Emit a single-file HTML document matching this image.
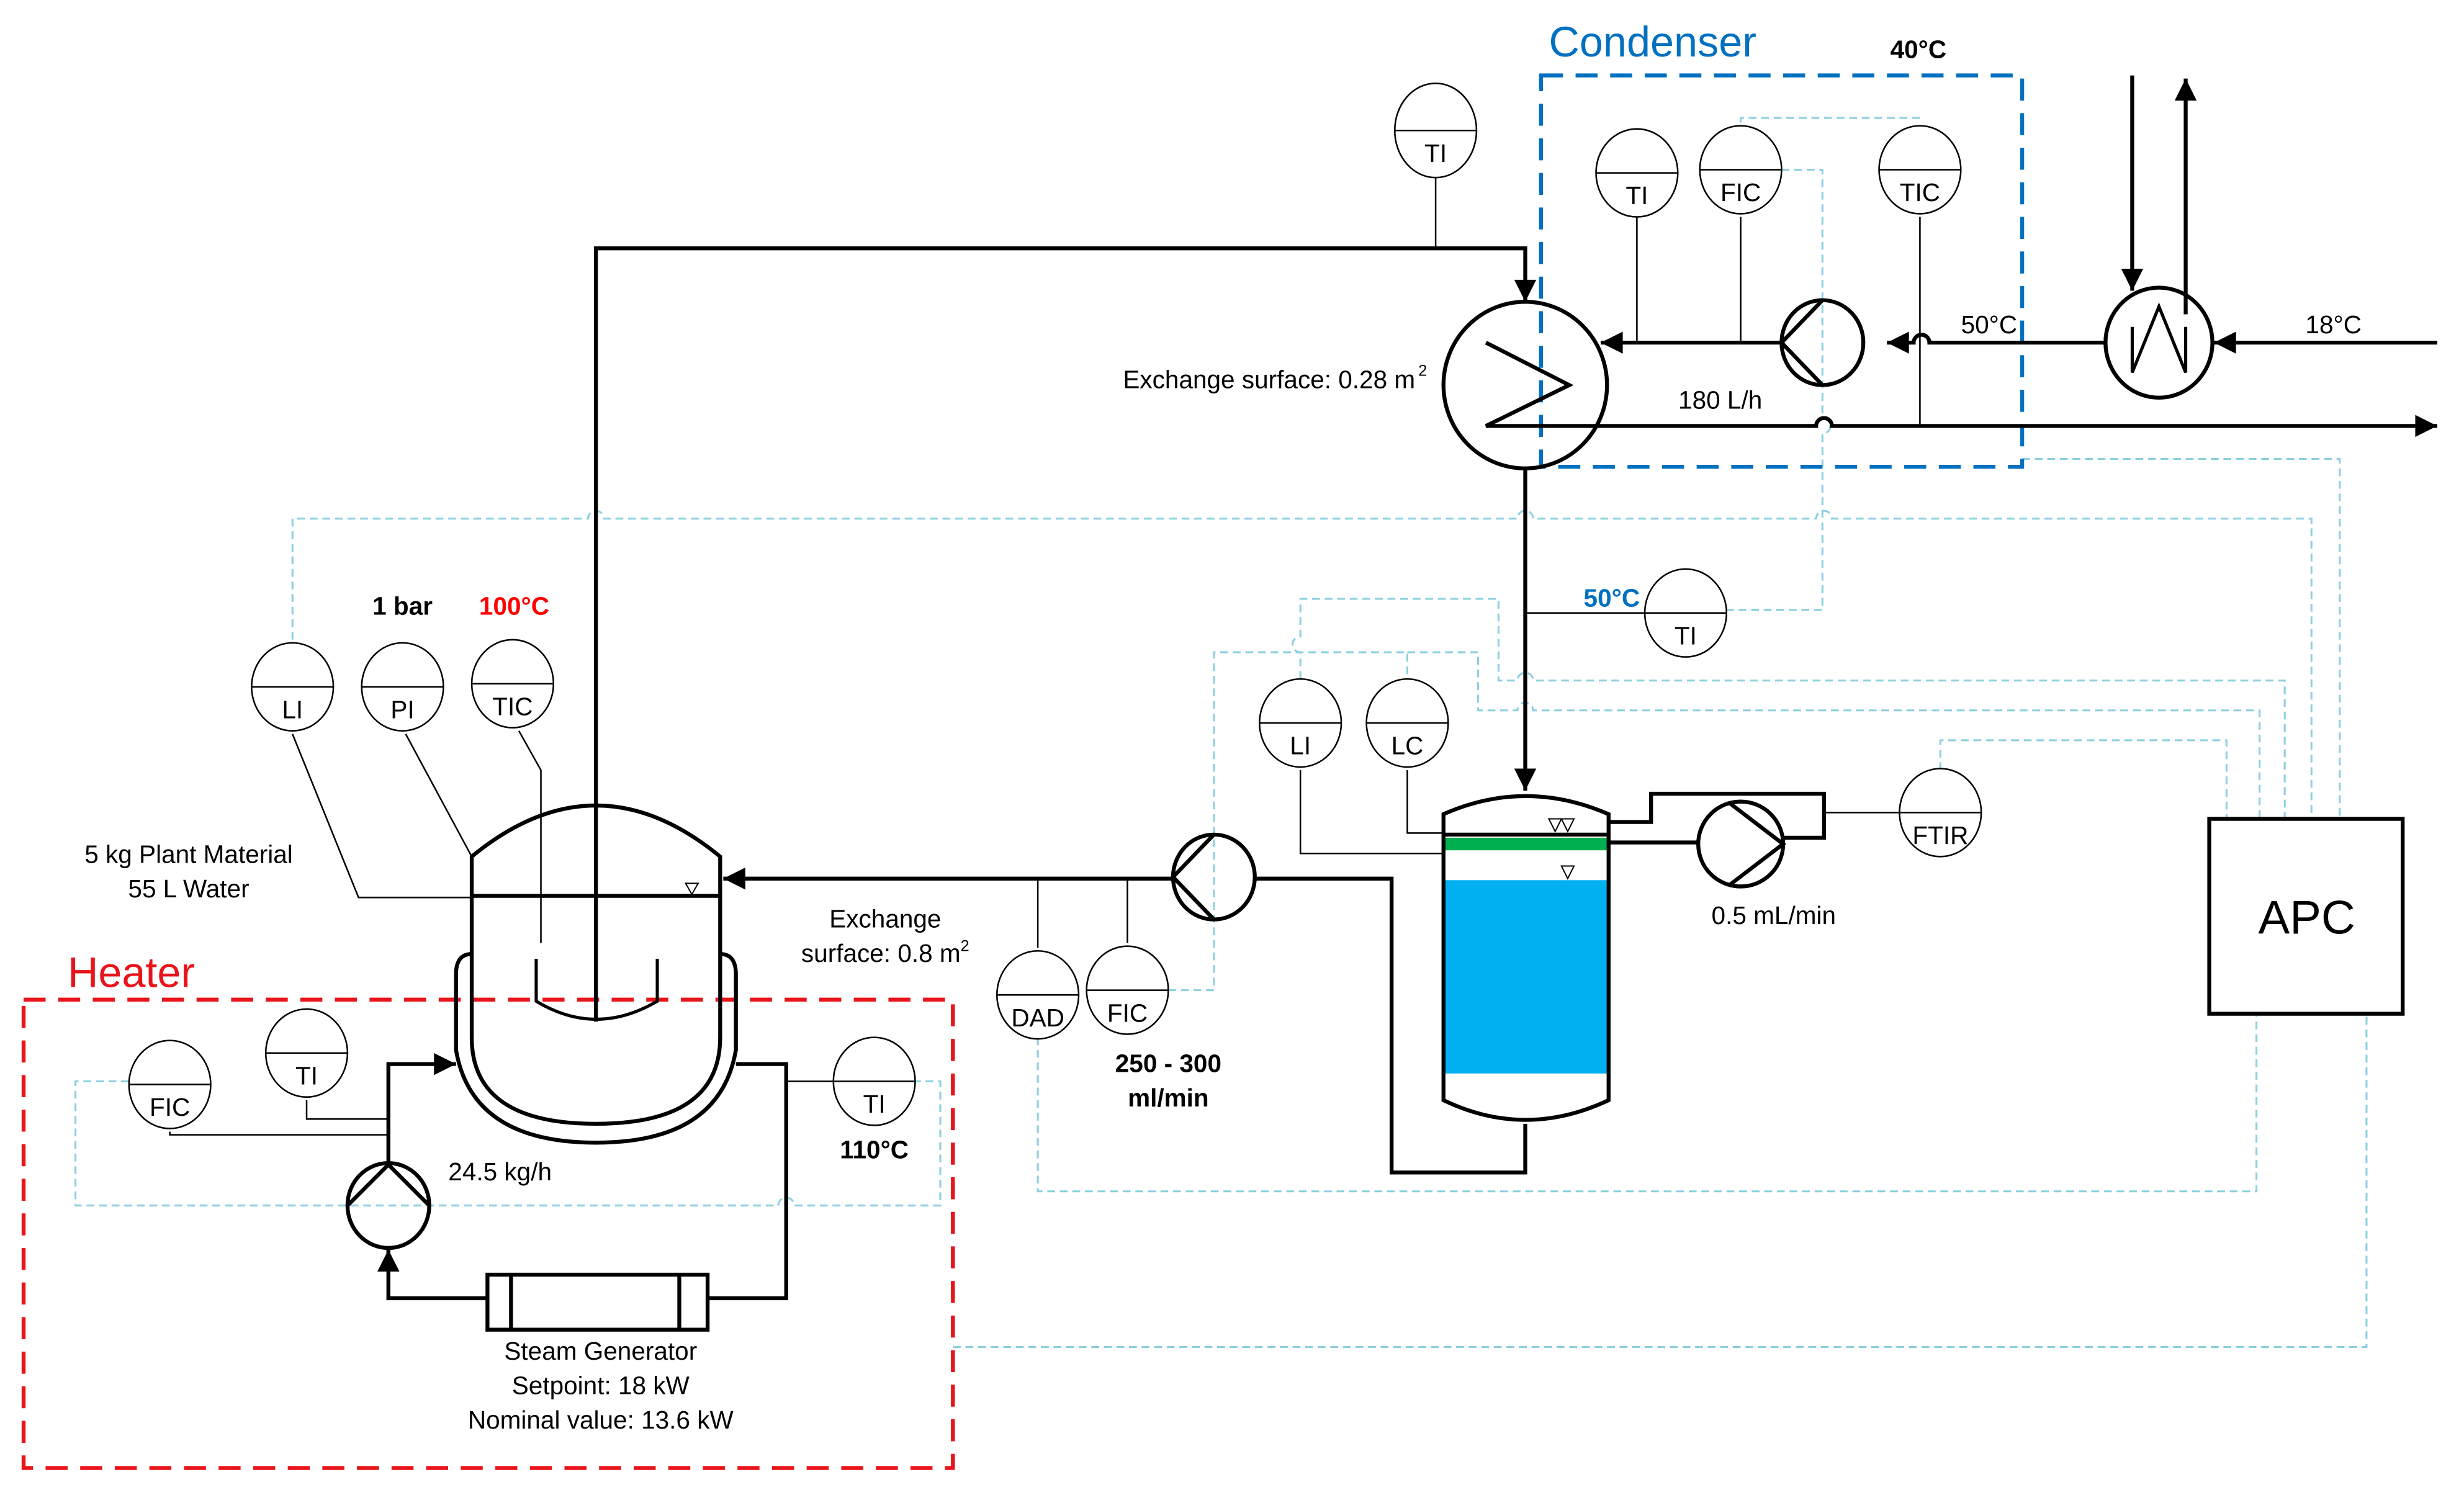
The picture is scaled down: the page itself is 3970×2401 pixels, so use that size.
<!DOCTYPE html>
<html><head><meta charset="utf-8"><style>
html,body{margin:0;padding:0;background:#fff;}
svg{display:block;}
text{font-family:"Liberation Sans",sans-serif;}
</style></head><body>
<svg width="3970" height="2401" viewBox="0 0 1567 948" preserveAspectRatio="none" xmlns="http://www.w3.org/2000/svg">
<defs>
<marker id="ah" viewBox="0 0 10 10" refX="10" refY="5" markerWidth="16" markerHeight="14" markerUnits="userSpaceOnUse" orient="auto"><path d="M0,0 L10,5 L0,10 Z" fill="#000"/></marker>
</defs>
<g fill="none" stroke="#8ccfe0" stroke-width="1.2" stroke-dasharray="5,3">
<path d="M186,407 V330 H374 a5,5 0 0 1 10,0 H965 a5,5 0 0 1 10,0 H1155 a5,5 0 0 1 10,0 H1470 V521"/>
<path d="M1286,292 H1488 V521"/>
<path d="M1107,78 V75 H1221 V78"/>
<path d="M1133,108 H1159 V266 a5,5 0 0 1 0,10 V388 H1098"/>
<path d="M827,432 V415 a5,5 0 0 1 0,-10 V381 H953 V433 H965 a5,5 0 0 1 10,0 H1453 V521"/>
<path d="M743,630 H772 V415 H895 V432"/>
<path d="M895,415 H940 V452 H965 a5,5 0 0 1 10,0 H1437 V521"/>
<path d="M1234,490 V471 H1416 V521"/>
<path d="M660,660 V758 H1435 V645"/>
<path d="M606,857 H1505 V645"/>
<path d="M82,688 H48 V767 H495 a5,5 0 0 1 10,0 H598 V688 H582"/>
</g>
<rect x="980" y="48" width="306" height="249" fill="none" stroke="#0070c0" stroke-width="2.5" stroke-dasharray="14,8"/>
<rect x="15" y="636" width="591" height="298" fill="none" stroke="#e8141a" stroke-width="2.5" stroke-dasharray="14,8"/>
<text x="985" y="36" font-size="27" fill="#0070c0">Condenser</text>
<text x="43" y="628" font-size="27" fill="#e8141a">Heater</text>
<g stroke="#000" stroke-width="1" fill="none">
<path d="M913,113 V158"/>
<path d="M1041,138 V218"/><path d="M1107,138 V218"/><path d="M1221,138 V271"/>
<path d="M970,390 H1046"/>
<path d="M827,490 V543 H918"/><path d="M895,490 V530 H918"/>
<path d="M1160,517 H1208"/>
<path d="M660,603 V559"/><path d="M717,600 V559"/>
<path d="M186,467 L228,571 H300"/><path d="M258,467 L300,545"/><path d="M330,465 L344,490 V600"/>
<path d="M195,700 V712 H247"/><path d="M108,720 V722 H247"/>
<path d="M530,688 H500"/>
</g>
<g stroke="#000" stroke-width="2.5" fill="none">
<path d="M379,650 V158 H970 V192" marker-end="url(#ah)"/>
<path d="M1550,218 H1408" marker-end="url(#ah)"/>
<path d="M1356,48 V185" marker-end="url(#ah)"/>
<path d="M1390,200 V50" marker-end="url(#ah)"/>
<path d="M1339,218 H1227 a5,5 0 0 0 -10,0 H1200" marker-end="url(#ah)"/>
<path d="M1133,218 H1018" marker-end="url(#ah)"/>
<path d="M945,218 L998,245 L945,271 H1155 a5,5 0 0 1 10,0 H1550" marker-end="url(#ah)"/>
<path d="M970,298 V503" marker-end="url(#ah)"/>
<path d="M970,715 V746 H885 V559 H798"/>
<path d="M746,559 H460" marker-end="url(#ah)"/>
<path d="M1023,536 H1080"/>
<path d="M1023,523 H1050 V505 H1160 V533 H1134"/>
<path d="M247,741 V677 H290" marker-end="url(#ah)"/>
<path d="M468,677 H500 V826 H450"/>
<path d="M310,826 H247 V795" marker-end="url(#ah)"/>
<ellipse cx="970" cy="245" rx="52" ry="53"/>
<ellipse cx="1373" cy="218" rx="34" ry="35"/>
<path d="M1356,208 L1356,237 L1373,195 L1390,237 L1390,208" stroke-width="2"/>
<ellipse cx="1159" cy="218" rx="26" ry="27"/><path d="M1159,191 L1133,218 L1159,245"/>
<ellipse cx="772" cy="558" rx="26" ry="27"/><path d="M772,531 L746,558 L772,585"/>
<ellipse cx="1107" cy="537" rx="27" ry="27"/><path d="M1100,511 L1134,537 L1100,563"/>
<ellipse cx="247" cy="767" rx="26" ry="27"/><path d="M221,767 L247,741 L273,767"/>
<rect x="310" y="811" width="140" height="35"/><path d="M325,811 V846 M432,811 V846"/>
<path d="M300,545 Q379,480 458,545 V660 Q458,715 379,715 Q300,715 300,660 Z"/>
<path d="M300,607 Q290,607 290,620 V668 Q300,727 379,727 Q458,727 468,668 V620 Q468,607 458,607"/>
<path d="M300,570 H458"/>
<path d="M341,610 V637 Q379,660 418,637 V610" stroke-width="2"/>
<rect x="1405" y="521" width="123" height="124"/>
</g>
<rect x="918" y="533" width="105" height="8" fill="#00b050"/>
<rect x="918" y="560" width="105" height="123" fill="#00b0f0"/>
<path d="M918,518 Q970,495 1023,518 V700 Q970,725 918,700 Z" fill="none" stroke="#000" stroke-width="2.5"/>
<path d="M918,531 H1023" stroke="#000" stroke-width="2.5"/>
<g fill="#fff" stroke="#000" stroke-width="0.8">
<path d="M985,521 h8 l-4,8 z"/><path d="M993,521 h8 l-4,8 z"/><path d="M993,551 h8 l-4,8 z"/><path d="M436,562 h8 l-4,7 z"/>
</g>
<g font-size="16" text-anchor="middle">
<g stroke="#000" stroke-width="1" fill="#fff">
<ellipse cx="913" cy="83" rx="26" ry="30"/><ellipse cx="1041" cy="110" rx="26" ry="28"/><ellipse cx="1107" cy="108" rx="26" ry="28"/><ellipse cx="1221" cy="108" rx="26" ry="28"/>
<ellipse cx="1072" cy="390" rx="26" ry="28"/><ellipse cx="827" cy="460" rx="26" ry="28"/><ellipse cx="895" cy="460" rx="26" ry="28"/><ellipse cx="1234" cy="517" rx="26" ry="28"/>
<ellipse cx="660" cy="633" rx="26" ry="28"/><ellipse cx="717" cy="630" rx="26" ry="28"/>
<ellipse cx="186" cy="437" rx="26" ry="28"/><ellipse cx="256" cy="437" rx="26" ry="28"/><ellipse cx="326" cy="435" rx="26" ry="28"/>
<ellipse cx="108" cy="690" rx="26" ry="28"/><ellipse cx="195" cy="670" rx="26" ry="28"/><ellipse cx="556" cy="688" rx="26" ry="28"/>
<path d="M887,83 h52 M1015,110 h52 M1081,108 h52 M1195,108 h52 M1046,390 h52 M801,460 h52 M869,460 h52 M1208,517 h52 M634,633 h52 M691,630 h52 M160,437 h52 M230,437 h52 M300,435 h52 M82,690 h52 M169,670 h52 M530,688 h52"/>
</g>
<text x="913" y="103">TI</text><text x="1041" y="130">TI</text><text x="1107" y="128">FIC</text><text x="1221" y="128">TIC</text>
<text x="1072" y="410">TI</text><text x="827" y="480">LI</text><text x="895" y="480">LC</text><text x="1234" y="537">FTIR</text>
<text x="660" y="653">DAD</text><text x="717" y="650">FIC</text>
<text x="186" y="457">LI</text><text x="256" y="457">PI</text><text x="326" y="455">TIC</text>
<text x="108" y="710">FIC</text><text x="195" y="690">TI</text><text x="556" y="708">TI</text>
<text x="1220" y="37" font-weight="bold">40°C</text>
<text x="1265" y="212">50°C</text><text x="1484" y="212">18°C</text><text x="1094" y="260">180 L/h</text>
<text x="1025" y="386" font-weight="bold" fill="#0070c0">50°C</text>
<text x="1128" y="588">0.5 mL/min</text>
<text x="743" y="682" font-weight="bold">250 - 300</text><text x="743" y="704" font-weight="bold">ml/min</text>
<text x="563" y="590">Exchange</text><text x="563" y="612">surface: 0.8 m<tspan font-size="10" dy="-7">2</tspan></text>
<text x="256" y="391" font-weight="bold">1 bar</text><text x="327" y="391" font-weight="bold" fill="#ff0000">100°C</text>
<text x="120" y="549">5 kg Plant Material</text><text x="120" y="571">55 L Water</text>
<text x="556" y="737" font-weight="bold">110°C</text><text x="318" y="751">24.5 kg/h</text>
<text x="382" y="865">Steam Generator</text><text x="382" y="887">Setpoint: 18 kW</text><text x="382" y="909">Nominal value: 13.6 kW</text>
<text x="1467" y="594" font-size="30">APC</text>
</g>
<text x="900" y="247" font-size="16" text-anchor="end">Exchange surface: 0.28 m</text><text x="902" y="239" font-size="10">2</text>
</svg>
</body></html>
